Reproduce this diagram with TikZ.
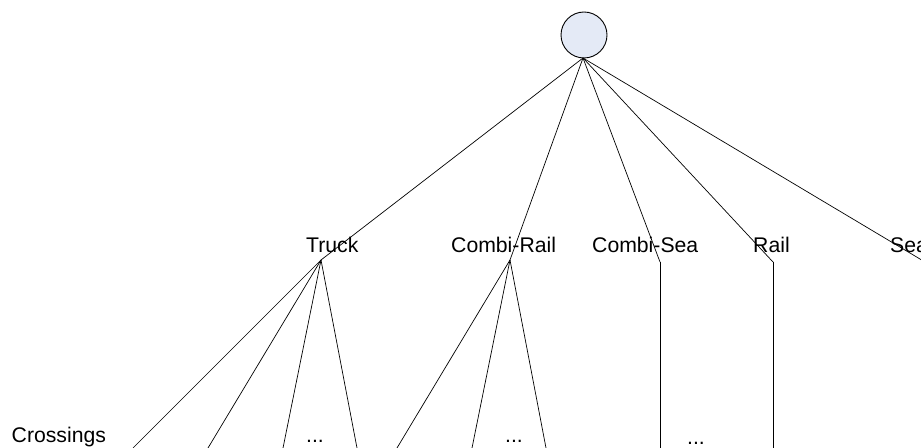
\documentclass[tikz,border=0pt]{standalone}
\usepackage{fontspec}
\setmainfont{Liberation Sans}
\definecolor{rootfill}{RGB}{228,234,246}
\begin{document}
\begin{tikzpicture}[x=1bp,y=-1bp,
  edge/.style={draw=black,line width=0.7bp},
  lbl/.style={inner sep=0pt,anchor=base west,font=\fontsize{21.2bp}{25bp}\selectfont},
  rootnode/.style={circle,draw=black,line width=0.9bp,fill=rootfill,minimum size=46bp,inner sep=0pt}]
\useasboundingbox (0,0) rectangle (921,448);
\node[rootnode] (root) at (584,35) {};
% apex points
\coordinate (truck) at (321,260);
\coordinate (crail) at (510,260);
\coordinate (csea) at (660,262);
\coordinate (rail) at (773,262);
\coordinate (sea) at (925,262);
% labels
\node[lbl] (ltruck) at (306,253) {Truck};
\node[lbl] (lcrail) at (451,253) {Combi-Rail};
\node[lbl] (lcsea) at (592,253) {Combi-Sea};
\node[lbl] (lrail) at (753,253) {Rail};
\node[lbl] (lsea) at (890,253) {Sea};
\node[lbl] (lcross) at (11.5,442) {Crossings};
\node[lbl] (d1) at (306,442) {...};
\node[lbl] (d2) at (505,442) {...};
\node[lbl] (d3) at (687,444) {...};
% bottom ends
\coordinate (t1) at (133,448);
\coordinate (t2) at (208,448);
\coordinate (t3) at (283,448);
\coordinate (t4) at (357,448);
\coordinate (r1) at (397,448);
\coordinate (r2) at (472,448);
\coordinate (r3) at (546,448);
\coordinate (s1) at (660,448);
\coordinate (q1) at (773,448);
\coordinate (rb) at (583,58);
% edges
\foreach \c in {truck,crail,csea,rail,sea} \draw[edge] (rb) -- (\c);
\foreach \c in {t1,t2,t3,t4} \draw[edge] (truck) -- (\c);
\foreach \c in {r1,r2,r3} \draw[edge] (crail) -- (\c);
\draw[edge] (csea) -- (s1);
\draw[edge] (rail) -- (q1);
\end{tikzpicture}
\end{document}
